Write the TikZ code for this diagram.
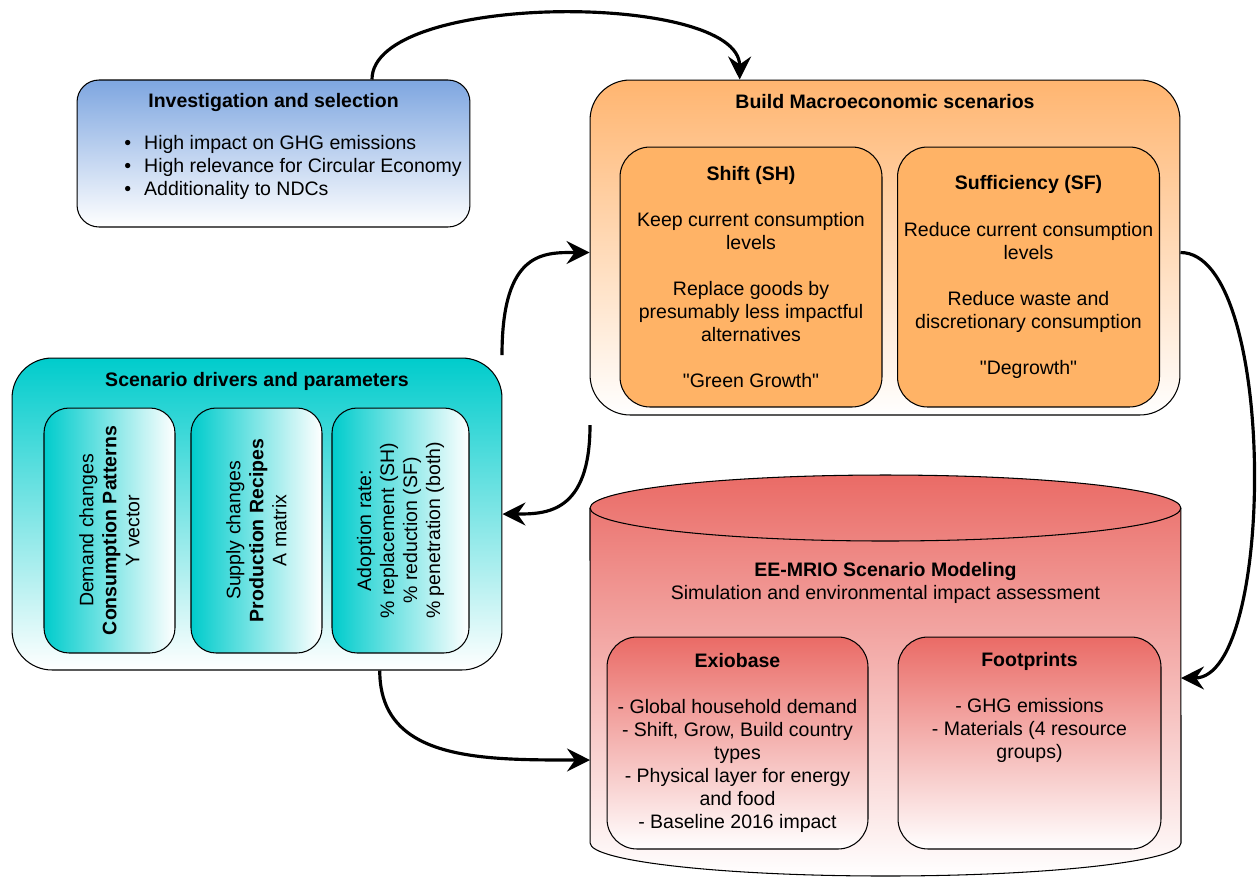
\documentclass[tikz,border=0pt]{standalone}
\usepackage{fontspec}
\setmainfont{Liberation Sans}
\usetikzlibrary{arrows.meta,calc}
\definecolor{invblue}{HTML}{7EA6E0}
\definecolor{scenorange}{HTML}{FFB570}
\definecolor{boxorange}{HTML}{FFB366}
\definecolor{drivteal}{HTML}{00CCCC}
\definecolor{modred}{HTML}{EA6B66}

\begin{document}
\begin{tikzpicture}[x=0.02cm, y=-0.02cm, line width=0.6pt,
  every node/.style={font=\fontsize{11.1}{13.1}\selectfont, align=center},
  panel/.style={draw, rounded corners=0.8cm, inner sep=0pt},
  card/.style={draw, rounded corners=0.6cm, inner sep=0pt, minimum width=5.24cm, minimum height=5.2cm},
  lever/.style={draw, rounded corners=0.5cm, inner sep=0pt, minimum height=4.9cm, left color=drivteal, right color=white},
  head/.style={font=\fontsize{11.1}{13.1}\selectfont\bfseries},
  flow/.style={-{Stealth[length=0.46cm, width=0.46cm, inset=0.16cm]}, line width=1.8pt}]
\useasboundingbox (0,0) rectangle (1257,877);
\begin{scope}
% investigation
\node[panel, rounded corners=0.44cm, top color=invblue, bottom color=white, minimum width=7.86cm, minimum height=2.94cm] (inv) at (273.5,153.5) {};
\node[head] (inv title) at (273.5,102) {Investigation and selection};
\node[anchor=west, align=left] (inv list) at (118,167) {\textbullet\hspace{0.26cm}High impact on GHG emissions\\\textbullet\hspace{0.26cm}High relevance for Circular Economy\\\textbullet\hspace{0.26cm}Additionality to NDCs};
% scenarios
\node[panel, top color=scenorange, bottom color=white, minimum width=11.8cm, minimum height=6.7cm] (build) at (885,247.5) {};
\node[head] (build title) at (885,102) {Build Macroeconomic scenarios};
\node[card, fill=boxorange] (shift) at (751,277) {\textbf{Shift (SH)}\\[\baselineskip]Keep current consumption\\levels\\[\baselineskip]Replace goods by\\presumably less impactful\\alternatives\\[\baselineskip]\textquotedbl Green Growth\textquotedbl};
\node[card, fill=boxorange] (suff) at (1028.5,277) {\textbf{Sufficiency (SF)}\\[\baselineskip]Reduce current consumption\\levels\\[\baselineskip]Reduce waste and\\discretionary consumption\\[\baselineskip]\textquotedbl Degrowth\textquotedbl};
% drivers
\node[panel, top color=drivteal, bottom color=white, minimum width=9.8cm, minimum height=6.24cm] (drivers) at (257,514) {};
\node[head] (drivers title) at (257,381) {Scenario drivers and parameters};
\node[lever, minimum width=2.62cm] (demand) at (109.5,530.5) {};
\node[lever, minimum width=2.62cm] (supply) at (256.5,530.5) {};
\node[lever, minimum width=2.74cm] (adopt) at (400.5,530.5) {};
\node[rotate=90] (demand text) at (demand) {Demand changes\\\textbf{Consumption Patterns}\\Y vector};
\node[rotate=90] (supply text) at (supply) {Supply changes\\\textbf{Production Recipes}\\A matrix};
\node[rotate=90] (adopt text) at (adopt) {Adoption rate:\\\% replacement (SH)\\\% reduction (SF)\\\% penetration (both)};
% model cylinder
\path[draw, top color=modred, bottom color=white] (590,508) arc[start angle=180, end angle=0, x radius=5.91cm, y radius=0.66cm] -- (1181,843) arc[start angle=0, end angle=-180, x radius=5.91cm, y radius=0.66cm] -- cycle;
\draw (590,508) arc[start angle=180, end angle=360, x radius=5.91cm, y radius=0.66cm];
\node (model title) at (885.5,582.5) {\textbf{EE-MRIO Scenario Modeling}\\Simulation and environmental impact assessment};
\node[card, minimum width=5.22cm, minimum height=4.24cm, top color=modred, bottom color=white] (exio) at (737.5,743) {\textbf{Exiobase}\\[\baselineskip]- Global household demand\\- Shift, Grow, Build country\\types\\- Physical layer for energy\\and food\\- Baseline 2016 impact};
\node[card, minimum width=5.26cm, minimum height=4.24cm, top color=modred, bottom color=white] (foot) at (1029.5,743) {};
\node (foot text) at (1029.5,707.5) {\textbf{Footprints}\\[\baselineskip]- GHG emissions\\- Materials (4 resource\\groups)};
\end{scope}
\coordinate (up) at (502,355);
\coordinate (down) at (590,425);
\coordinate (model in) at (590,760);
\coordinate (model fb) at (1181,678);
\begin{scope}
\draw[flow] ($(inv.north west)!0.75!(inv.north east)$) .. controls +(0,-88) and +(0,-88) .. ($(build.north west)!0.254!(build.north east)$);
\draw[flow] (up) .. controls +(0,-105) and +(-45,0) .. ([yshift=-0.1cm]build.west);
\draw[flow] (down) .. controls +(0,89) and +(43,0) .. (drivers.east);
\draw[flow] ([yshift=-0.1cm]build.east) .. controls +(97,0) and +(95,0) .. (model fb);
\draw[flow] ($(drivers.south west)!0.75!(drivers.south east)$) .. controls +(0,90) and +(-110,0) .. (model in);
\end{scope}
\end{tikzpicture}
\end{document}
